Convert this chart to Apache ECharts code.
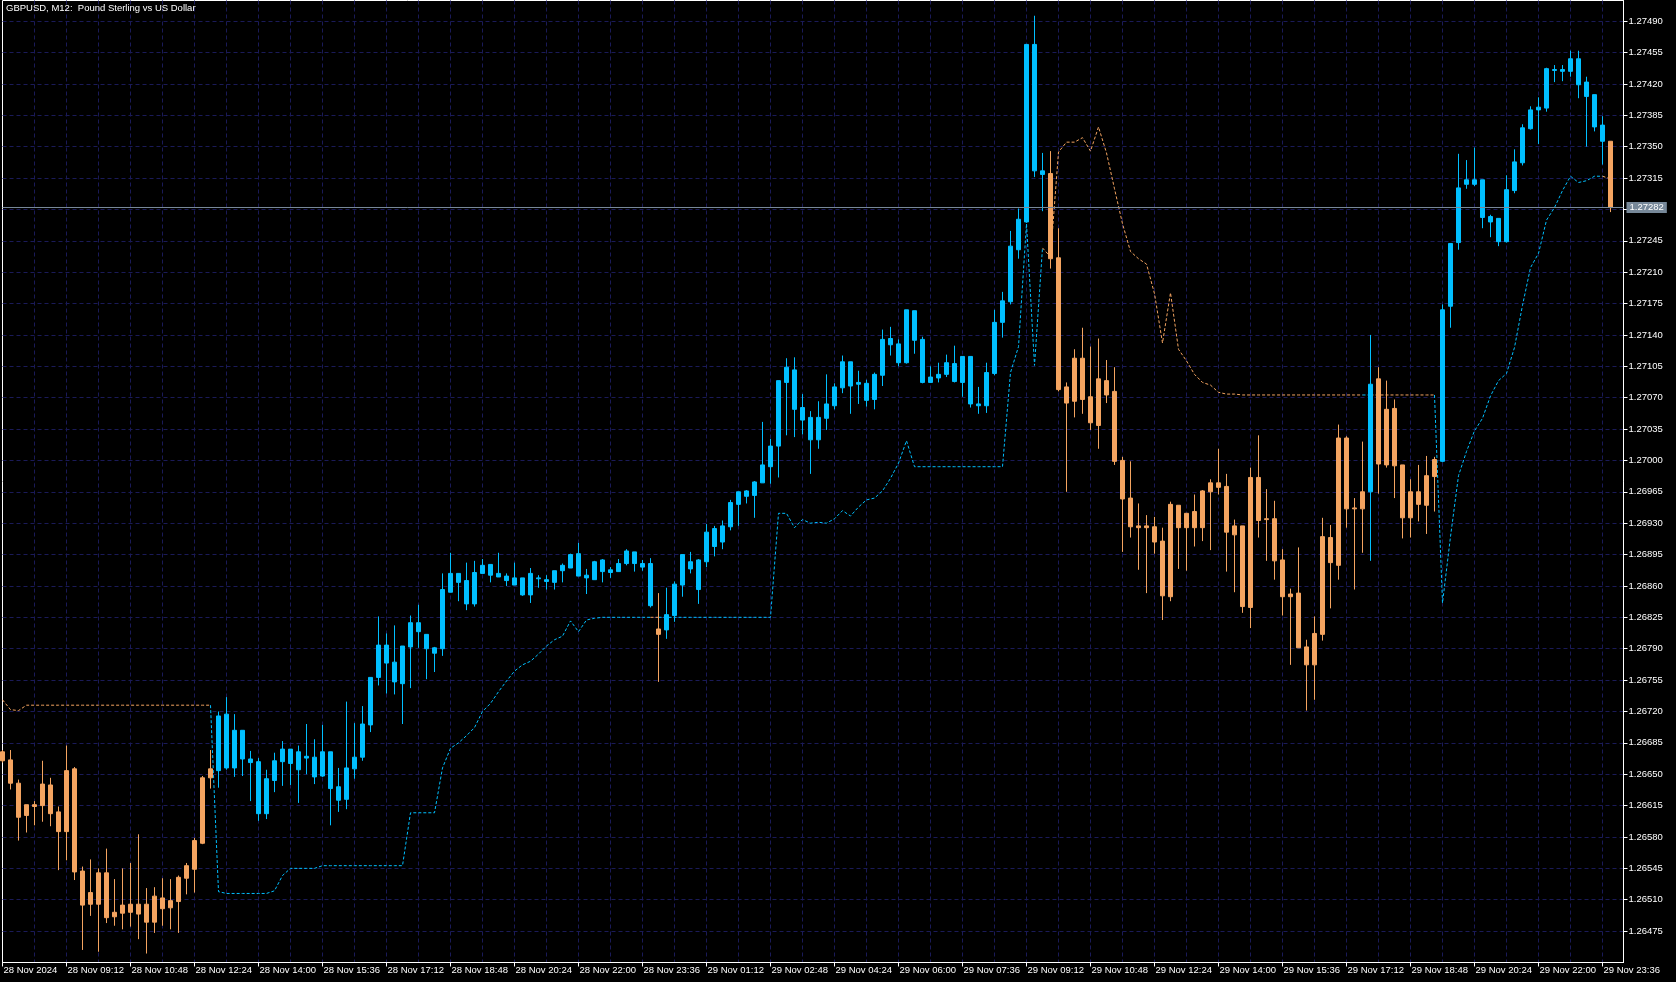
<!DOCTYPE html>
<html><head><meta charset="utf-8">
<script src="https://cdn.jsdelivr.net/npm/echarts@6/dist/echarts.min.js"></script>
<style>html,body{margin:0;padding:0;background:#000;}#c{width:1676px;height:982px;}</style>
</head><body><div id="c"></div>
<script>
const chartTitle = 'GBPUSD, M12:  Pound Sterling vs US Dollar';
const tickLabels = ['28 Nov 2024','28 Nov 09:12','28 Nov 10:48','28 Nov 12:24','28 Nov 14:00','28 Nov 15:36','28 Nov 17:12','28 Nov 18:48','28 Nov 20:24','28 Nov 22:00','28 Nov 23:36','29 Nov 01:12','29 Nov 02:48','29 Nov 04:24','29 Nov 06:00','29 Nov 07:36','29 Nov 09:12','29 Nov 10:48','29 Nov 12:24','29 Nov 14:00','29 Nov 15:36','29 Nov 17:12','29 Nov 18:48','29 Nov 20:24','29 Nov 22:00','29 Nov 23:36'];
const lastPrice = 1.27282;

const opens = [1.26665,1.26666,1.26640,1.26604,1.26616,1.26615,1.26638,1.26608,1.26586,1.26656,
1.26542,1.26505,1.26505,1.26540,1.26491,1.26495,1.26505,1.26494,1.26505,1.26485,
1.26512,1.26501,1.26508,1.26534,1.26544,1.26573,1.26646,1.26654,1.26717,1.26657,
1.26699,1.26667,1.26664,1.26606,1.26643,1.26664,1.26678,1.26655,1.26670,1.26669,
1.26648,1.26675,1.26636,1.26622,1.26656,1.26669,1.26705,1.26758,1.26794,1.26775,
1.26751,1.26792,1.26819,1.26806,1.26791,1.26790,1.26853,1.26874,1.26866,1.26840,
1.26874,1.26884,1.26870,1.26871,1.26869,1.26869,1.26850,1.26869,1.26867,1.26864,
1.26877,1.26880,1.26896,1.26872,1.26867,1.26889,1.26875,1.26876,1.26885,1.26898,
1.26885,1.26885,1.26812,1.26811,1.26827,1.26861,1.26887,1.26889,1.26887,1.26924,
1.26909,1.26926,1.26951,1.26966,1.26961,1.26975,1.26993,1.27016,1.27087,1.27101,
1.27059,1.27048,1.27023,1.27047,1.27061,1.27081,1.27110,1.27085,1.27086,1.27068,
1.27095,1.27136,1.27130,1.27109,1.27167,1.27135,1.27087,1.27092,1.27096,1.27108,
1.27087,1.27116,1.27063,1.27061,1.27097,1.27154,1.27177,1.27235,1.27266,1.27464,
1.27323,1.27320,1.27226,1.27082,1.27066,1.27114,1.27071,1.27039,1.27089,1.27077,
1.27000,1.26958,1.26927,1.26925,1.26926,1.26910,1.26848,1.26950,1.26925,1.26943,
1.26925,1.26965,1.26975,1.26971,1.26917,1.26927,1.26836,1.26981,1.26934,1.26935,
1.26889,1.26848,1.26852,1.26792,1.26772,1.26806,1.26914,1.26883,1.27025,1.26946,
1.26946,1.26965,1.27091,1.26995,1.27058,1.26995,1.26936,1.26965,1.26950,1.26982,
1.26999,1.27172,1.27243,1.27308,1.27313,1.27313,1.27272,1.27270,1.27244,1.27301,
1.27332,1.27370,1.27391,1.27393,1.27436,1.27434,1.27434,1.27448,1.27422,1.27408,
1.27374,1.27356];

const closes = [1.26675,1.26640,1.26602,1.26616,1.26614,1.26639,1.26606,1.26586,1.26654,1.26541,
1.26504,1.26518,1.26540,1.26490,1.26496,1.26504,1.26496,1.26505,1.26485,1.26514,
1.26500,1.26509,1.26535,1.26548,1.26576,1.26646,1.26656,1.26715,1.26657,1.26699,
1.26667,1.26663,1.26606,1.26645,1.26665,1.26678,1.26662,1.26675,1.26668,1.26647,
1.26675,1.26634,1.26621,1.26657,1.26669,1.26706,1.26758,1.26794,1.26774,1.26753,
1.26793,1.26819,1.26809,1.26790,1.26785,1.26856,1.26874,1.26864,1.26840,1.26875,
1.26883,1.26872,1.26874,1.26866,1.26861,1.26850,1.26874,1.26868,1.26865,1.26877,
1.26883,1.26895,1.26871,1.26869,1.26887,1.26876,1.26878,1.26885,1.26899,1.26885,
1.26881,1.26838,1.26806,1.26828,1.26862,1.26895,1.26879,1.26856,1.26920,1.26904,
1.26927,1.26953,1.26965,1.26960,1.26976,1.26995,1.27016,1.27089,1.27104,1.27057,
1.27045,1.27023,1.27048,1.27063,1.27082,1.27110,1.27083,1.27087,1.27067,1.27096,
1.27135,1.27129,1.27109,1.27168,1.27134,1.27087,1.27093,1.27096,1.27109,1.27088,
1.27116,1.27063,1.27061,1.27098,1.27154,1.27178,1.27239,1.27269,1.27464,1.27323,
1.27319,1.27225,1.27079,1.27064,1.27114,1.27068,1.27042,1.27091,1.27073,1.26999,
1.26957,1.26926,1.26925,1.26927,1.26909,1.26849,1.26951,1.26925,1.26941,1.26925,
1.26966,1.26975,1.26970,1.26920,1.26927,1.26837,1.26981,1.26933,1.26935,1.26888,
1.26848,1.26851,1.26791,1.26772,1.26807,1.26915,1.26886,1.27025,1.26946,1.26947,
1.26965,1.27085,1.26996,1.27057,1.26994,1.26936,1.26965,1.26951,1.26983,1.27001,
1.27168,1.27242,1.27304,1.27313,1.27308,1.27271,1.27266,1.27244,1.27302,1.27333,
1.27371,1.27391,1.27394,1.27437,1.27435,1.27436,1.27448,1.27419,1.27406,1.27372,
1.27356,1.27282];

const lows = [1.26663,1.26633,1.26576,1.26585,1.26593,1.26597,1.26592,1.26543,1.26554,1.26532,
1.26454,1.26492,1.26452,1.26484,1.26481,1.26477,1.26480,1.26466,1.26450,1.26473,
1.26481,1.26477,1.26473,1.26516,1.26518,1.26572,1.26634,1.26635,1.26655,1.26647,
1.26648,1.26620,1.26598,1.26600,1.26630,1.26637,1.26638,1.26618,1.26650,1.26639,
1.26647,1.26593,1.26608,1.26611,1.26645,1.26665,1.26697,1.26749,1.26740,1.26739,
1.26706,1.26746,1.26791,1.26756,1.26764,1.26782,1.26853,1.26843,1.26833,1.26837,
1.26874,1.26864,1.26870,1.26860,1.26861,1.26849,1.26841,1.26858,1.26856,1.26856,
1.26864,1.26880,1.26871,1.26851,1.26867,1.26864,1.26869,1.26876,1.26883,1.26876,
1.26877,1.26836,1.26753,1.26801,1.26820,1.26848,1.26874,1.26840,1.26881,1.26893,
1.26901,1.26922,1.26927,1.26952,1.26936,1.26975,1.26974,1.26981,1.27028,1.27026,
1.27029,1.26985,1.27013,1.27034,1.27057,1.27075,1.27052,1.27063,1.27060,1.27057,
1.27083,1.27117,1.27105,1.27108,1.27119,1.27086,1.27087,1.27087,1.27093,1.27087,
1.27071,1.27059,1.27052,1.27053,1.27095,1.27137,1.27174,1.27225,1.27265,1.27316,
1.27278,1.27214,1.27077,1.26965,1.27048,1.27052,1.27034,1.27013,1.27064,1.26995,
1.26898,1.26914,1.26878,1.26852,1.26896,1.26822,1.26843,1.26879,1.26877,1.26904,
1.26910,1.26900,1.26962,1.26876,1.26853,1.26830,1.26813,1.26914,1.26888,1.26867,
1.26827,1.26772,1.26791,1.26721,1.26733,1.26799,1.26835,1.26867,1.26925,1.26856,
1.26897,1.26888,1.26963,1.26992,1.26958,1.26913,1.26914,1.26932,1.26918,1.26943,
1.26998,1.27148,1.27235,1.27303,1.27306,1.27259,1.27249,1.27239,1.27243,1.27298,
1.27329,1.27369,1.27353,1.27389,1.27422,1.27423,1.27428,1.27404,1.27350,1.27367,
1.27330,1.27277];

const highs = [1.26677,1.26677,1.26644,1.26616,1.26620,1.26665,1.26646,1.26614,1.26682,1.26658,
1.26547,1.26555,1.26545,1.26567,1.26533,1.26545,1.26551,1.26583,1.26523,1.26524,
1.26534,1.26533,1.26537,1.26551,1.26579,1.26648,1.26677,1.26720,1.26736,1.26717,
1.26699,1.26676,1.26668,1.26655,1.26674,1.26687,1.26678,1.26682,1.26706,1.26689,
1.26705,1.26675,1.26657,1.26731,1.26707,1.26726,1.26758,1.26826,1.26807,1.26816,
1.26793,1.26827,1.26839,1.26806,1.26792,1.26874,1.26897,1.26874,1.26886,1.26888,
1.26890,1.26884,1.26897,1.26874,1.26886,1.26869,1.26880,1.26872,1.26872,1.26877,
1.26885,1.26896,1.26908,1.26879,1.26888,1.26890,1.26881,1.26890,1.26901,1.26898,
1.26889,1.26891,1.26852,1.26858,1.26865,1.26895,1.26898,1.26890,1.26929,1.26927,
1.26933,1.26956,1.26965,1.26967,1.26977,1.27043,1.27024,1.27089,1.27114,1.27115,
1.27074,1.27055,1.27066,1.27096,1.27086,1.27117,1.27110,1.27100,1.27090,1.27098,
1.27146,1.27149,1.27135,1.27168,1.27167,1.27138,1.27105,1.27109,1.27118,1.27128,
1.27116,1.27116,1.27082,1.27109,1.27168,1.27188,1.27256,1.27281,1.27464,1.27496,
1.27343,1.27345,1.27259,1.27087,1.27124,1.27148,1.27127,1.27136,1.27112,1.27104,
1.27004,1.26999,1.26952,1.26939,1.26937,1.26925,1.26954,1.26950,1.26941,1.26962,
1.26967,1.26979,1.27013,1.26985,1.26934,1.26927,1.26992,1.27028,1.26968,1.26955,
1.26901,1.26857,1.26903,1.26800,1.26826,1.26936,1.26928,1.27040,1.27027,1.26958,
1.27021,1.27140,1.27104,1.27089,1.27068,1.26995,1.26979,1.26995,1.27005,1.27004,
1.27174,1.27242,1.27342,1.27335,1.27349,1.27313,1.27274,1.27270,1.27318,1.27347,
1.27375,1.27395,1.27405,1.27438,1.27441,1.27441,1.27457,1.27457,1.27428,1.27408,
1.27384,1.27356];

const stopLevel = [1.26733,1.26722,1.26721,1.26727,1.26727,1.26727,1.26727,1.26727,1.26727,1.26727,
1.26727,1.26727,1.26727,1.26727,1.26727,1.26727,1.26727,1.26727,1.26727,1.26727,
1.26727,1.26727,1.26727,1.26727,1.26727,1.26727,1.26727,1.26519,1.26517,1.26517,
1.26517,1.26517,1.26517,1.26517,1.26520,1.26537,1.26545,1.26545,1.26545,1.26545,
1.26548,1.26548,1.26548,1.26548,1.26548,1.26548,1.26548,1.26548,1.26548,1.26548,
1.26548,1.26607,1.26607,1.26607,1.26607,1.26657,1.26679,1.26685,1.26693,1.26702,
1.26720,1.26729,1.26742,1.26754,1.26765,1.26772,1.26776,1.26784,1.26793,1.26800,
1.26804,1.26821,1.26809,1.26822,1.26824,1.26825,1.26825,1.26825,1.26825,1.26825,
1.26825,1.26825,1.26825,1.26825,1.26825,1.26825,1.26825,1.26825,1.26825,1.26825,
1.26825,1.26825,1.26825,1.26825,1.26825,1.26825,1.26825,1.26941,1.26941,1.26925,
1.26934,1.26930,1.26931,1.26930,1.26935,1.26944,1.26938,1.26948,1.26956,1.26958,
1.26966,1.26980,1.26997,1.27022,1.26993,1.26993,1.26993,1.26993,1.26993,1.26993,
1.26993,1.26993,1.26993,1.26993,1.26993,1.26993,1.27098,1.27127,1.27264,1.27106,
1.27237,1.27227,1.27344,1.27355,1.27355,1.27360,1.27345,1.27372,1.27343,1.27303,
1.27264,1.27233,1.27225,1.27219,1.27186,1.27131,1.27187,1.27124,1.27111,1.27096,
1.27087,1.27084,1.27076,1.27074,1.27074,1.27073,1.27073,1.27073,1.27073,1.27073,
1.27073,1.27073,1.27073,1.27073,1.27073,1.27073,1.27073,1.27073,1.27073,1.27073,
1.27073,1.27073,1.27073,1.27073,1.27073,1.27073,1.27073,1.27073,1.27073,1.27073,
1.26841,1.26915,1.26983,1.27010,1.27033,1.27047,1.27072,1.27089,1.27097,1.27126,
1.27173,1.27215,1.27231,1.27268,1.27282,1.27301,1.27317,1.27310,1.27312,1.27317,
1.27317,1.27314];

// trend side of each bar, as runs: [side, number of bars]; 1 = up (blue), -1 = down (orange)
const trendRuns = [[-1,27],[1,55],[-1,1],[1,48],[-1,40],[1,1],[-1,8],[1,21],[-1,1]];

const UP = '#00BFFF', DN = '#F4A460', GRIDC = '#1a1a58', FONT = 'Liberation Sans';
const trend = [];
trendRuns.forEach(([s, n]) => { for (let k = 0; k < n; k++) trend.push(s); });
const N = opens.length;
const upCandles = [], dnCandles = [];
for (let i = 0; i < N; i++) {
  const it = [i, opens[i], closes[i], lows[i], highs[i]];
  (trend[i] > 0 ? upCandles : dnCandles).push(it);
}
// stop line: segment (i-1 -> i) takes colour of bar i
const lineSeries = [];
let run = null, runSide = 0;
for (let i = 1; i < N; i++) {
  const s = trend[i];
  if (run && s === runSide) run.push([i, stopLevel[i]]);
  else {
    if (run) lineSeries.push({ data: run, side: runSide });
    run = [[i - 1, stopLevel[i - 1]], [i, stopLevel[i]]];
    runSide = s;
  }
}
if (run) lineSeries.push({ data: run, side: runSide });

const XMAX = 1621 / 8;
const series = [];
lineSeries.forEach((r, k) => {
  series.push({
    type: 'line', data: r.data, symbol: 'none', silent: true, z: 1,
    lineStyle: { color: r.side > 0 ? UP : DN, width: 1, type: [3, 2] },
    markLine: k === 0 ? {
      silent: true, symbol: 'none', animation: false, precision: 5,
      data: [{ yAxis: lastPrice }],
      lineStyle: { color: '#778899', width: 1, type: 'solid' },
      label: { show: true, position: 'end', distance: 3, formatter: lastPrice.toFixed(5),
        color: '#ffffff', backgroundColor: '#778899', padding: [1, 3, 0, 3],
        fontFamily: FONT, fontSize: 9.5 }
    } : undefined
  });
});
const candleStyle = (c) => ({ color: c, color0: c, borderColor: c, borderColor0: c, borderWidth: 1 });
series.push({ type: 'candlestick', data: upCandles, encode: { x: 0, y: [1, 2, 3, 4] }, barWidth: 4, itemStyle: candleStyle(UP), z: 2 });
series.push({ type: 'candlestick', data: dnCandles, encode: { x: 0, y: [1, 2, 3, 4] }, barWidth: 4, itemStyle: candleStyle(DN), z: 2 });

const chart = echarts.init(document.getElementById('c'), null, { renderer: 'canvas' });
chart.setOption({
  backgroundColor: '#000000',
  animation: false,
  title: { text: chartTitle, left: 6, top: 3, padding: 0, textStyle: { color: '#ffffff', fontSize: 9.5, fontWeight: 'normal', fontFamily: FONT } },
  grid: { left: 2.5, right: 52.5, top: 0.5, bottom: 19.5, show: true, borderColor: '#ffffff', borderWidth: 1, backgroundColor: '#000000' },
  xAxis: [
    { type: 'value', min: 0, max: XMAX, interval: 4, position: 'bottom',
      axisLine: { show: false, onZero: false }, axisTick: { show: false }, axisLabel: { show: false },
      splitLine: { show: true, showMinLine: false, showMaxLine: false, lineStyle: { color: GRIDC, width: 1, type: [4, 3] } } },
    { type: 'value', min: 0, max: XMAX, interval: 8, position: 'bottom',
      axisLine: { show: true, onZero: false, lineStyle: { color: '#ffffff' } },
      axisTick: { show: true, length: 4, lineStyle: { color: '#ffffff' } },
      splitLine: { show: false },
      axisLabel: { show: true, color: '#ffffff', fontFamily: FONT, fontSize: 9.5, align: 'left', margin: 3,
        showMaxLabel: false, padding: [0, 0, 0, 1],
        formatter: (v) => { const k = Math.round(v / 8); return (Math.abs(v - k * 8) < 1e-6 && tickLabels[k]) ? tickLabels[k] : ''; } } }
  ],
  yAxis: {
    type: 'value', position: 'right', min: 1.26440, max: 1.27513, interval: 0.00035,
    axisLine: { show: true, onZero: false, lineStyle: { color: '#ffffff' } },
    axisTick: { show: true, length: 4, lineStyle: { color: '#ffffff' } },
    splitLine: { show: true, showMinLine: false, showMaxLine: false, lineStyle: { color: GRIDC, width: 1, type: [4, 3] } },
    axisLabel: { color: '#ffffff', fontFamily: FONT, fontSize: 9.5, margin: 5, showMinLabel: false, showMaxLabel: false,
      formatter: (v) => Math.abs(v - lastPrice) < 0.0001 ? '' : v.toFixed(5) }
  },
  series: series
});
</script>
</body></html>
